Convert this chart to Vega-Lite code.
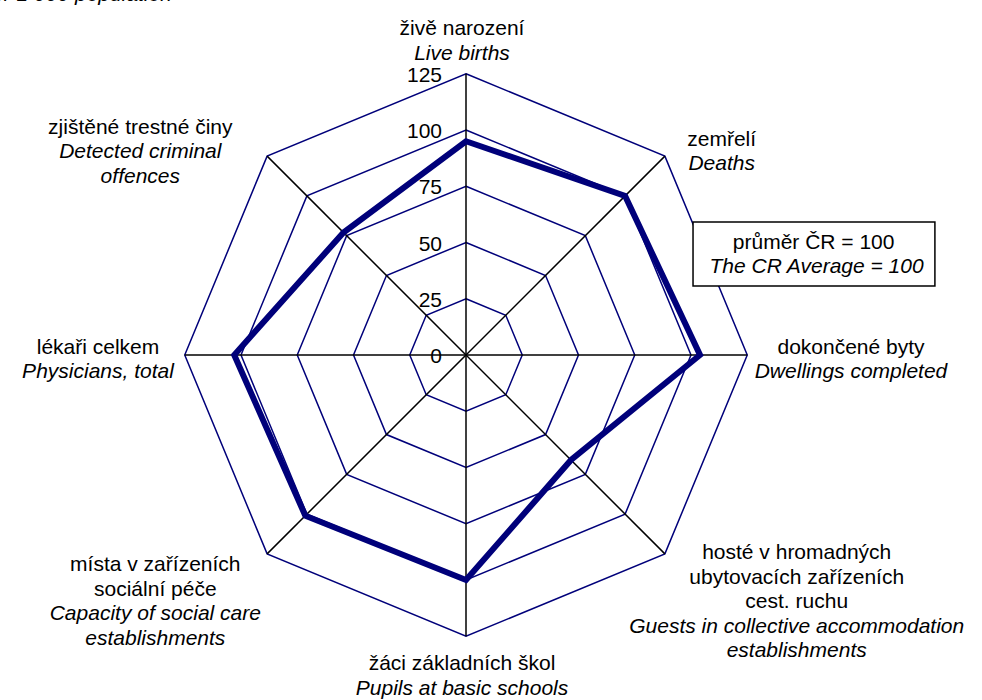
{
  "$schema": "https://vega.github.io/schema/vega-lite/v6.json",
  "width": 982,
  "height": 700,
  "padding": 0,
  "autosize": {"type": "none"},
  "background": "white",
  "config": {"view": {"stroke": null}, "font": "Liberation Sans"},
  "datasets": {
    "main": [
      {"i": 0, "indicator": "Live births", "value": 95},
      {"i": 1, "indicator": "Deaths", "value": 100},
      {"i": 2, "indicator": "Dwellings completed", "value": 104},
      {"i": 3, "indicator": "Guests in collective accommodation establishments", "value": 66},
      {"i": 4, "indicator": "Pupils at basic schools", "value": 100},
      {"i": 5, "indicator": "Capacity of social care establishments", "value": 101},
      {"i": 6, "indicator": "Physicians, total", "value": 103},
      {"i": 7, "indicator": "Detected criminal offences", "value": 77}
    ],
    "grid": [
      {"level": 25, "k": [0, 1, 2, 3, 4, 5, 6, 7]},
      {"level": 50, "k": [0, 1, 2, 3, 4, 5, 6, 7]},
      {"level": 75, "k": [0, 1, 2, 3, 4, 5, 6, 7]},
      {"level": 100, "k": [0, 1, 2, 3, 4, 5, 6, 7]},
      {"level": 125, "k": [0, 1, 2, 3, 4, 5, 6, 7]}
    ],
    "ticks": [
      {"v": 0}, {"v": 25}, {"v": 50}, {"v": 75}, {"v": 100}, {"v": 125}
    ],
    "heading": [
      {"text": "per 1 000 population"}
    ],
    "note": [
      {"line": 0, "lang": "cz", "text": "průměr  ČR = 100"},
      {"line": 1, "lang": "en", "text": "The CR Average = 100"}
    ],
    "labels": [
      {"i": 0, "line": 0, "lang": "cz", "text": "živě narození"},
      {"i": 0, "line": 1, "lang": "en", "text": "Live births"},
      {"i": 1, "line": 0, "lang": "cz", "text": "zemřelí"},
      {"i": 1, "line": 1, "lang": "en", "text": "Deaths"},
      {"i": 2, "line": 0, "lang": "cz", "text": "dokončené byty"},
      {"i": 2, "line": 1, "lang": "en", "text": "Dwellings completed"},
      {"i": 3, "line": 0, "lang": "cz", "text": "hosté v hromadných"},
      {"i": 3, "line": 1, "lang": "cz", "text": "ubytovacích zařízeních"},
      {"i": 3, "line": 2, "lang": "cz", "text": "cest. ruchu"},
      {"i": 3, "line": 3, "lang": "en", "text": "Guests in collective accommodation"},
      {"i": 3, "line": 4, "lang": "en", "text": "establishments"},
      {"i": 4, "line": 0, "lang": "cz", "text": "žáci základních škol"},
      {"i": 4, "line": 1, "lang": "en", "text": "Pupils at basic schools"},
      {"i": 5, "line": 0, "lang": "cz", "text": "místa v zařízeních"},
      {"i": 5, "line": 1, "lang": "cz", "text": "sociální péče"},
      {"i": 5, "line": 2, "lang": "en", "text": "Capacity of social care"},
      {"i": 5, "line": 3, "lang": "en", "text": "establishments"},
      {"i": 6, "line": 0, "lang": "cz", "text": "lékaři celkem"},
      {"i": 6, "line": 1, "lang": "en", "text": "Physicians, total"},
      {"i": 7, "line": 0, "lang": "cz", "text": "zjištěné trestné činy"},
      {"i": 7, "line": 1, "lang": "en", "text": "Detected criminal"},
      {"i": 7, "line": 2, "lang": "en", "text": "offences"}
    ]
  },
  "layer": [
    {
      "data": {"name": "grid"},
      "transform": [
        {"flatten": ["k"]},
        {"calculate": "datum.level*sin(datum.k*PI/4)", "as": "x"},
        {"calculate": "datum.level*cos(datum.k*PI/4)", "as": "y"}
      ],
      "mark": {"type": "line", "interpolate": "linear-closed", "color": "#00007a", "strokeWidth": 1.5},
      "encoding": {
        "x": {"field": "x", "type": "quantitative", "axis": null, "scale": {"domain": [-207.11, 229.33], "nice": false, "zero": false}},
        "y": {"field": "y", "type": "quantitative", "axis": null, "scale": {"domain": [-153.33, 157.78], "nice": false, "zero": false}},
        "detail": {"field": "level", "type": "nominal"},
        "order": {"field": "k", "type": "quantitative"}
      }
    },
    {
      "data": {"name": "main"},
      "transform": [
        {"calculate": "0", "as": "cx"},
        {"calculate": "0", "as": "cy"},
        {"calculate": "125*sin(datum.i*PI/4)", "as": "sx"},
        {"calculate": "125*cos(datum.i*PI/4)", "as": "sy"}
      ],
      "mark": {"type": "rule", "color": "black", "strokeWidth": 1.5},
      "encoding": {
        "x": {"field": "cx", "type": "quantitative", "axis": null, "scale": {"domain": [-207.11, 229.33], "nice": false, "zero": false}},
        "y": {"field": "cy", "type": "quantitative", "axis": null, "scale": {"domain": [-153.33, 157.78], "nice": false, "zero": false}},
        "x2": {"field": "sx"},
        "y2": {"field": "sy"}
      }
    },
    {
      "data": {"name": "main"},
      "transform": [
        {"calculate": "datum.value*sin(datum.i*PI/4)", "as": "x"},
        {"calculate": "datum.value*cos(datum.i*PI/4)", "as": "y"}
      ],
      "mark": {"type": "line", "interpolate": "linear-closed", "color": "#00007a", "strokeWidth": 6, "strokeJoin": "miter"},
      "encoding": {
        "x": {"field": "x", "type": "quantitative", "axis": null, "scale": {"domain": [-207.11, 229.33], "nice": false, "zero": false}},
        "y": {"field": "y", "type": "quantitative", "axis": null, "scale": {"domain": [-153.33, 157.78], "nice": false, "zero": false}},
        "order": {"field": "i", "type": "quantitative"}
      }
    },
    {
      "data": {"name": "ticks"},
      "transform": [{"calculate": "0", "as": "cx"}],
      "mark": {"type": "text", "align": "right", "baseline": "middle", "dx": -24, "dy": 2, "fontSize": 21, "color": "black"},
      "encoding": {
        "x": {"field": "cx", "type": "quantitative", "axis": null, "scale": {"domain": [-207.11, 229.33], "nice": false, "zero": false}},
        "y": {"field": "v", "type": "quantitative", "axis": null, "scale": {"domain": [-153.33, 157.78], "nice": false, "zero": false}},
        "text": {"field": "v", "type": "quantitative"}
      }
    },
    {
      "data": {"name": "labels"},
      "transform": [
        {"joinaggregate": [{"op": "count", "as": "n"}], "groupby": ["i"]},
        {"calculate": "datum.lang == 'cz' ? length(datum.text) : 0", "as": "len"},
        {"joinaggregate": [{"op": "max", "field": "len", "as": "maxlen"}], "groupby": ["i"]},
        {"calculate": "sin(datum.i*PI/4)", "as": "s"},
        {"calculate": "cos(datum.i*PI/4)", "as": "c"},
        {"calculate": "datum.n*24.5", "as": "H"},
        {"calculate": "datum.c > 0.9 ? -289 - datum.H/2 : datum.c < -0.9 ? 297 + datum.H/2 : datum.c > 0.1 ? -203 : datum.c < -0.1 ? 247 : 5", "as": "by"},
        {"calculate": "abs(datum.s) < 0.1 ? -4 : 281*datum.s + (datum.s > 0 ? 1 : -1)*(22 + (datum.s > 0.9 ? 12 : 0) + datum.maxlen*5)", "as": "bx"},
        {"calculate": "datum.by - datum.H/2 + (datum.line + 0.5)*24.5", "as": "ly"},
        {"calculate": "datum.bx/2.25", "as": "x"},
        {"calculate": "-datum.ly/2.25", "as": "y"}
      ],
      "layer": [
        {
          "transform": [{"filter": "datum.lang == 'cz'"}],
          "mark": {"type": "text", "align": "center", "baseline": "middle", "fontSize": 21, "color": "black"},
          "encoding": {
            "x": {"field": "x", "type": "quantitative", "axis": null, "scale": {"domain": [-207.11, 229.33], "nice": false, "zero": false}},
            "y": {"field": "y", "type": "quantitative", "axis": null, "scale": {"domain": [-153.33, 157.78], "nice": false, "zero": false}},
            "text": {"field": "text", "type": "nominal"}
          }
        },
        {
          "transform": [{"filter": "datum.lang == 'en'"}],
          "mark": {"type": "text", "align": "center", "baseline": "middle", "fontSize": 21, "fontStyle": "italic", "color": "black"},
          "encoding": {
            "x": {"field": "x", "type": "quantitative", "axis": null, "scale": {"domain": [-207.11, 229.33], "nice": false, "zero": false}},
            "y": {"field": "y", "type": "quantitative", "axis": null, "scale": {"domain": [-153.33, 157.78], "nice": false, "zero": false}},
            "text": {"field": "text", "type": "nominal"}
          }
        }
      ]
    },
    {
      "data": {"name": "heading"},
      "transform": [
        {"calculate": "-130.7", "as": "hx"},
        {"calculate": "157.3", "as": "hy"}
      ],
      "mark": {"type": "text", "align": "right", "baseline": "alphabetic", "fontSize": 21, "fontStyle": "italic", "color": "black"},
      "encoding": {
        "x": {"field": "hx", "type": "quantitative", "axis": null, "scale": {"domain": [-207.11, 229.33], "nice": false, "zero": false}},
        "y": {"field": "hy", "type": "quantitative", "axis": null, "scale": {"domain": [-153.33, 157.78], "nice": false, "zero": false}},
        "text": {"field": "text", "type": "nominal"}
      }
    },
    {
      "data": {"name": "note"},
      "transform": [
        {"aggregate": [{"op": "count", "as": "n"}]},
        {"calculate": "100.9", "as": "bx1"},
        {"calculate": "208.4", "as": "bx2"},
        {"calculate": "59.1", "as": "by1"},
        {"calculate": "30.7", "as": "by2"}
      ],
      "mark": {"type": "rect", "fill": "white", "stroke": "black", "strokeWidth": 1.5},
      "encoding": {
        "x": {"field": "bx1", "type": "quantitative", "axis": null, "scale": {"domain": [-207.11, 229.33], "nice": false, "zero": false}},
        "x2": {"field": "bx2"},
        "y": {"field": "by1", "type": "quantitative", "axis": null, "scale": {"domain": [-153.33, 157.78], "nice": false, "zero": false}},
        "y2": {"field": "by2"}
      }
    },
    {
      "data": {"name": "note"},
      "transform": [
        {"calculate": "datum.line == 0 ? 154.5 : 155.8", "as": "tx"},
        {"calculate": "datum.line == 0 ? 49.8 : 39.1", "as": "ty"}
      ],
      "layer": [
        {
          "transform": [{"filter": "datum.lang == 'cz'"}],
          "mark": {"type": "text", "align": "center", "baseline": "middle", "fontSize": 21, "color": "black"},
          "encoding": {
            "x": {"field": "tx", "type": "quantitative", "axis": null, "scale": {"domain": [-207.11, 229.33], "nice": false, "zero": false}},
            "y": {"field": "ty", "type": "quantitative", "axis": null, "scale": {"domain": [-153.33, 157.78], "nice": false, "zero": false}},
            "text": {"field": "text", "type": "nominal"}
          }
        },
        {
          "transform": [{"filter": "datum.lang == 'en'"}],
          "mark": {"type": "text", "align": "center", "baseline": "middle", "fontSize": 21, "fontStyle": "italic", "color": "black"},
          "encoding": {
            "x": {"field": "tx", "type": "quantitative", "axis": null, "scale": {"domain": [-207.11, 229.33], "nice": false, "zero": false}},
            "y": {"field": "ty", "type": "quantitative", "axis": null, "scale": {"domain": [-153.33, 157.78], "nice": false, "zero": false}},
            "text": {"field": "text", "type": "nominal"}
          }
        }
      ]
    }
  ]
}
